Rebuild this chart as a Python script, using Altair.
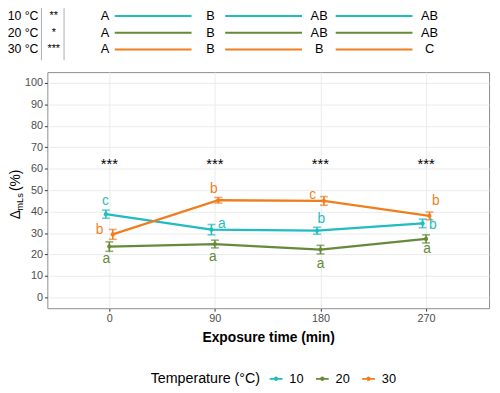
import altair as alt
import pandas as pd

# ---------------- data ----------------
times = [0, 90, 180, 270]
temps = ["10", "20", "30"]
mean_10 = [38.8, 31.6, 31.1, 34.5]
se_10 = [1.9, 2.4, 1.6, 2.0]
mean_20 = [23.7, 24.9, 22.3, 27.3]
se_20 = [2.2, 1.8, 2.0, 1.9]
mean_30 = [29.4, 45.3, 45.0, 38.0]
se_30 = [2.3, 1.3, 2.0, 1.8]
letters_10 = ["c", "a", "b", "b"]
letters_20 = ["a", "a", "a", "a"]
letters_30 = ["b", "b", "c", "b"]
time_sig = ["***", "***", "***", "***"]
temp_labels = ["10 °C", "20 °C", "30 °C"]
temp_sig = ["**", "*", "***"]
time_letters_10 = ["A", "B", "AB", "AB"]
time_letters_20 = ["A", "B", "AB", "AB"]
time_letters_30 = ["A", "B", "B", "C"]

# ---------------- style ----------------
colors = ["#1FBCC1", "#668A3A", "#EF7F1E"]
FONT = "Liberation Sans"
W, H = 449, 240
XD = [-52.8, 323.7]
YD = [-5, 105]
PXX = W / (XD[1] - XD[0])
PXY = H / (YD[1] - YD[0])
DODGE_PX = {"10": -3.5, "20": 0.0, "30": 3.5}
# label nudges (dx, dy) in pixels
NUDGE = {
    "10": [(-4, -13), (7, -6), (1, -12), (7, 2)],
    "20": [(-3, 13), (-2, 13), (0, 15), (1, 10)],
    "30": [(-10, -4), (-1, -11), (-8, -6), (10, -15)],
}
SIG_Y = 62
# top table layout (index units)
TOP_DOMAIN = [-0.460, 3.538]
TOP_STEP_PX = W / (TOP_DOMAIN[1] - TOP_DOMAIN[0])
TOP_LETTER_DX_PX = [7, 2, 0, 0]
SEG_START, SEG_END = 0.15, 0.845

means = {"10": mean_10, "20": mean_20, "30": mean_30}
ses = {"10": se_10, "20": se_20, "30": se_30}
lets = {"10": letters_10, "20": letters_20, "30": letters_30}
tlets = {"10": time_letters_10, "20": time_letters_20, "30": time_letters_30}

rows = []
for t in temps:
    for i, tm in enumerate(times):
        m, s = means[t][i], ses[t][i]
        dx, dy = NUDGE[t][i]
        rows.append(dict(temp=t, time=tm, mean=m, lo=m - s, hi=m + s,
                         xd=tm + DODGE_PX[t] / PXX, letter=lets[t][i],
                         lx=tm + dx / PXX, ly=m - dy / PXY))
df = pd.DataFrame(rows)
sig_df = pd.DataFrame({"time": times, "sig": time_sig, "y": [SIG_Y] * len(times)})

color_scale = alt.Scale(domain=temps, range=colors)
legend_path = ("M-1,-0.13L1,-0.13L1,0.13L-1,0.13Z "
               "M0.34,0A0.34,0.34 0 1,1 -0.34,0A0.34,0.34 0 1,1 0.34,0Z")
LEGEND = alt.Legend(
    title="Temperature (°C)", orient="none", legendX=105, legendY=305,
    direction="horizontal", titleOrient="left", titleFontSize=14.5,
    titleFontWeight="normal", titleColor="black", titleFont=FONT,
    labelFontSize=13, labelColor="black", labelFont=FONT,
    symbolType=legend_path, symbolSize=169, symbolStrokeWidth=0,
    symbolOpacity=1, columnPadding=12, labelOffset=7, titlePadding=9)

xaxis = alt.Axis(values=times, title="Exposure time (min)", grid=True,
                 titleFontSize=14, titleFontWeight="bold", titleColor="black",
                 titlePadding=7)
yaxis = alt.Axis(values=list(range(0, 101, 10)), title=None, grid=True)


def X(field):
    return alt.X(field, type="quantitative",
                 scale=alt.Scale(domain=XD, nice=False, zero=False), axis=xaxis)


def Y(field):
    return alt.Y(field, type="quantitative",
                 scale=alt.Scale(domain=YD, nice=False, zero=False), axis=yaxis)


C = alt.Color("temp:N", scale=color_scale, legend=LEGEND)
base = alt.Chart(df)

line = base.mark_line(strokeWidth=2.3).encode(x=X("xd"), y=Y("mean"), color=C)
rule = base.mark_rule(strokeWidth=1.6).encode(x=X("xd"), y=Y("lo"), y2="hi", color=C)
caps = base.transform_fold(["lo", "hi"], as_=["k", "v"]).mark_tick(
    orient="horizontal", size=8, thickness=1.6).encode(x=X("xd"), y=Y("v"), color=C)
points = base.mark_point(filled=True, size=18, opacity=1).encode(
    x=X("xd"), y=Y("mean"), color=C)
labels = base.mark_text(fontSize=14, font=FONT, baseline="middle").encode(
    x=X("lx"), y=Y("ly"), text="letter", color=C)
sig = alt.Chart(sig_df).mark_text(fontSize=15, font=FONT, color="black").encode(
    x=X("time"), y=Y("y"), text="sig")

one = pd.DataFrame({"a": [0]})
ytitle_d = alt.Chart(one).mark_text(text="Δ", angle=270, fontSize=14, font=FONT,
                                    color="black").encode(x=alt.value(-32), y=alt.value(145))
ytitle_s = alt.Chart(one).mark_text(text="mLs", angle=270, fontSize=9.5, font=FONT,
                                    color="black").encode(x=alt.value(-28), y=alt.value(132))
ytitle_p = alt.Chart(one).mark_text(text="(%)", angle=270, fontSize=14, font=FONT,
                                    color="black").encode(x=alt.value(-32), y=alt.value(110))

main = alt.layer(line, rule, caps, points, labels, sig, ytitle_d, ytitle_s, ytitle_p)

# ---------------- top annotation table ----------------
ann_rows, seg_rows = [], []
for t in temps:
    for i in range(len(times)):
        ann_rows.append(dict(temp=t, idx=i + TOP_LETTER_DX_PX[i] / TOP_STEP_PX,
                             letter=tlets[t][i]))
    for i in range(len(times) - 1):
        seg_rows.append(dict(temp=t, x=i + SEG_START, x2=i + SEG_END))
ann_df = pd.DataFrame(ann_rows)
seg_df = pd.DataFrame(seg_rows)
row_df = pd.DataFrame({"temp": temps, "label": temp_labels, "sig": temp_sig})

AXS = alt.Scale(domain=TOP_DOMAIN, nice=False, zero=False)
AY = alt.Y("temp:N", scale=alt.Scale(type="point", domain=temps, range=[-57, -23], padding=0),
           axis=None)
ann_text = alt.Chart(ann_df).mark_text(fontSize=13, font=FONT, color="black").encode(
    x=alt.X("idx:Q", scale=AXS, axis=None), y=AY, text="letter")
ann_seg = alt.Chart(seg_df).mark_rule(strokeWidth=2).encode(
    x=alt.X("x:Q", scale=AXS, axis=None), x2="x2", y=AY, color=C)
ann_lab = alt.Chart(row_df).mark_text(fontSize=12.5, font=FONT, color="black", align="right").encode(
    x=alt.value(-9), y=AY, text="label")
ann_sig = alt.Chart(row_df).mark_text(fontSize=11, font=FONT, color="black").encode(
    x=alt.value(6.5), y=AY, text="sig")
vline1 = alt.Chart(one).mark_rule(color="#AAAAAA", strokeWidth=1).encode(
    x=alt.value(-6), y=alt.value(-68), y2=alt.value(-12))
vline2 = alt.Chart(one).mark_rule(color="#AAAAAA", strokeWidth=1).encode(
    x=alt.value(17), y=alt.value(-68), y2=alt.value(-12))
ann = alt.layer(ann_seg, ann_text, ann_lab, ann_sig, vline1, vline2)

chart = alt.layer(main, ann).resolve_scale(x="independent", y="independent").properties(
    width=W, height=H,
    padding={"left": 40, "top": 62, "right": 3, "bottom": 82},
    autosize=alt.AutoSizeParams(type="none"),
).configure_view(stroke="#8C8C8C", strokeWidth=1).configure_axis(
    labelFont=FONT, labelFontSize=11, labelColor="#4D4D4D", tickColor="#333333",
    tickSize=3, domain=False, gridColor="#EBEBEB", gridWidth=1, labelPadding=2,
    titleFont=FONT)

chart.save("out.html", embed_options={"renderer": "svg", "actions": False})
